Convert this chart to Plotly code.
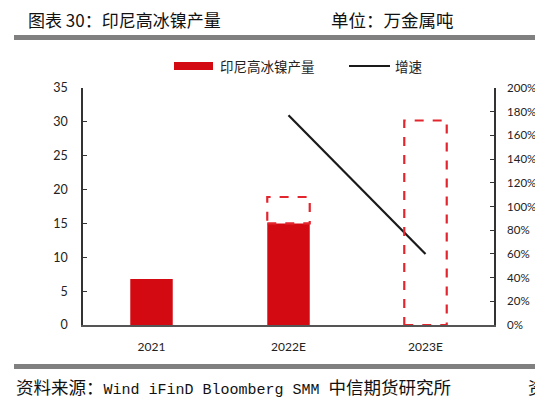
import plotly.graph_objects as go

categories = ["2021", "2022E", "2023E"]
output_actual = [6.8, 15.0, None]        # 万金属吨 (solid)
output_forecast = [None, 18.9, 30.2]     # 万金属吨 (dashed outline top)
growth = [None, 177, 60]                 # %
left_ticks = [0, 5, 10, 15, 20, 25, 30, 35]
right_ticks = [0, 20, 40, 60, 80, 100, 120, 140, 160, 180, 200]

RED = "#d40a12"
DASH_RED = "#e3262e"
BAR_W = 0.31
xs = list(range(len(categories)))

# page offset (body margin) = 8px; plot area in page px: x 83..494, y 88..325
OFF = 8
px_x = lambda x: (x - 83) / 411
px_y = lambda y: (325 - y) / 237

fig = go.Figure()

fig.add_trace(go.Bar(
    x=xs, y=output_actual, width=BAR_W, marker=dict(color=RED, line=dict(width=0)),
    name="印尼高冰镍产量", showlegend=False, yaxis="y",
))

shapes = []
for i, top in enumerate(output_forecast):
    if top is None:
        continue
    base = output_actual[i] if output_actual[i] is not None else 0
    shapes.append(dict(type="rect", xref="x", yref="y",
                       x0=xs[i] - BAR_W / 2, x1=xs[i] + BAR_W / 2, y0=base, y1=top,
                       line=dict(color=DASH_RED, width=2.2, dash="dash"),
                       fillcolor="rgba(0,0,0,0)", layer="above"))

fig.add_trace(go.Scatter(
    x=xs, y=growth, mode="lines", line=dict(color="#1a1a1a", width=2.2),
    name="增速", showlegend=False, yaxis="y2", connectgaps=False,
))

shapes.append(dict(type="rect", xref="paper", yref="paper", x0=px_x(14), x1=px_x(560),
                   y0=px_y(40), y1=px_y(35), fillcolor="#808080", line=dict(width=0)))
shapes.append(dict(type="rect", xref="paper", yref="paper", x0=px_x(14), x1=px_x(560),
                   y0=px_y(369), y1=px_y(364), fillcolor="#808080", line=dict(width=0)))
shapes.append(dict(type="rect", xref="paper", yref="paper", x0=px_x(174), x1=px_x(213),
                   y0=px_y(70), y1=px_y(62), fillcolor=RED, line=dict(width=0)))
shapes.append(dict(type="line", xref="paper", yref="paper", x0=px_x(349), x1=px_x(390),
                   y0=px_y(66), y1=px_y(66), line=dict(color="#1a1a1a", width=2)))

CJK = "Noto Sans CJK SC"
annotations = [
    dict(text="图表 30：印尼高冰镍产量", x=px_x(26), y=px_y(19), xref="paper", yref="paper",
         xanchor="left", yanchor="middle", showarrow=False,
         font=dict(family=CJK, size=17, color="#111")),
    dict(text="单位：万金属吨", x=px_x(329), y=px_y(19), xref="paper", yref="paper",
         xanchor="left", yanchor="middle", showarrow=False,
         font=dict(family=CJK, size=17.5, color="#111")),
    dict(text='资料来源：<span style="font-family:Liberation Mono;font-size:15px">Wind iFinD Bloomberg SMM </span>中信期货研究所',
         x=px_x(14), y=px_y(386),
         xref="paper", yref="paper", xanchor="left", yanchor="middle", showarrow=False,
         font=dict(family=CJK, size=17.5, color="#111")),
    dict(text="资", x=px_x(526), y=px_y(386), xref="paper", yref="paper",
         xanchor="left", yanchor="middle", showarrow=False,
         font=dict(family=CJK, size=17.5, color="#111")),
    dict(text="印尼高冰镍产量", x=px_x(218), y=px_y(66), xref="paper", yref="paper",
         xanchor="left", yanchor="middle", showarrow=False,
         font=dict(family=CJK, size=13.5, color="#222")),
    dict(text="增速", x=px_x(393), y=px_y(66), xref="paper", yref="paper",
         xanchor="left", yanchor="middle", showarrow=False,
         font=dict(family=CJK, size=13.5, color="#222")),
]

fig.update_layout(
    width=543 - OFF, height=399 - OFF,
    margin=dict(l=83 - OFF, r=49, t=88 - OFF, b=74, pad=0, autoexpand=False),
    paper_bgcolor="white", plot_bgcolor="white",
    showlegend=False,
    shapes=shapes, annotations=annotations,
    xaxis=dict(range=[-0.5, 2.5], tickmode="array", tickvals=xs, ticktext=categories,
               showgrid=False, zeroline=False, showline=True, linecolor="#555", linewidth=1.5,
               ticks="", tickfont=dict(family="Lato", size=12, color="#222"),
               ticklabelstandoff=10, automargin=False),
    yaxis=dict(range=[0, 35], tickmode="array", tickvals=left_ticks,
               showgrid=False, zeroline=False, showline=True, linecolor="#333", linewidth=1.5,
               ticks="inside", ticklen=4, tickcolor="#333", automargin=False,
               tickfont=dict(family="Lato", size=12.5, color="#222"), ticklabelstandoff=11),
    yaxis2=dict(range=[0, 200], overlaying="y", side="right", tickmode="array",
                tickvals=right_ticks, ticktext=[f"{v}%" for v in right_ticks],
                showgrid=False, zeroline=False, showline=True, linecolor="#333", linewidth=1.5,
                ticks="inside", ticklen=4, tickcolor="#333", automargin=False,
                tickfont=dict(family="Lato", size=11.5, color="#222"), ticklabelstandoff=9),
)

fig.write_html("out.html")
